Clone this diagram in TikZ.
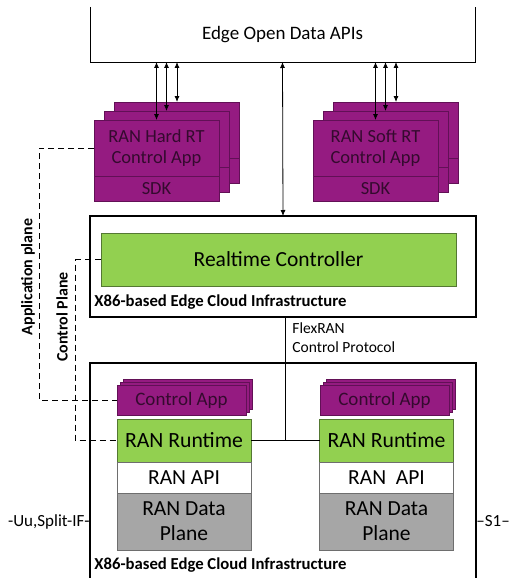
\documentclass[tikz,border=0pt]{standalone}
\usepackage{fontspec}
\setmainfont{Carlito}
\usetikzlibrary{arrows.meta,positioning}

\definecolor{appfill}{RGB}{149,27,129}
\definecolor{appedge}{RGB}{98,16,86}
\definecolor{apptext}{RGB}{52,10,46}
\definecolor{rtfill}{RGB}{146,208,80}
\definecolor{rtedge}{RGB}{84,120,50}
\definecolor{dpfill}{RGB}{166,166,166}
\definecolor{dpedge}{RGB}{110,110,110}

\begin{document}
\begin{tikzpicture}[
      x=1pt,
      y=-1pt,
      line width=0.8pt,
      app/.style={draw=appedge, fill=appfill, text=apptext, align=center, minimum width=125pt, inner sep=0pt, outer sep=0pt, font=\fontsize{18.5}{21}\selectfont},
      ctlapp/.style={app, minimum width=129pt, minimum height=30pt, font=\fontsize{19}{21}\selectfont},
      runtime/.style={draw=rtedge, fill=rtfill, align=center, minimum width=134pt, minimum height=43pt, inner sep=0pt, outer sep=0pt, font=\fontsize{21.7}{24}\selectfont},
      ranapi/.style={draw=dpedge, fill=white, minimum width=134pt, minimum height=31pt, inner sep=0pt, outer sep=0pt, font=\fontsize{21.5}{24}\selectfont},
      dataplane/.style={draw=dpedge, fill=dpfill, align=center, minimum width=134pt, minimum height=57pt, inner sep=0pt, outer sep=0pt, font=\fontsize{21.5}{25}\selectfont},
      infra/.style={minimum width=386pt, inner sep=0pt, outer sep=0pt},
      infralabel/.style={anchor=west, inner sep=0pt, font=\bfseries\fontsize{16.7}{19}\selectfont},
      planelabel/.style={rotate=90, inner sep=0pt, font=\bfseries\fontsize{16}{19}\selectfont},
      sidelabel/.style={inner sep=0pt, font=\fontsize{17}{19}\selectfont},
      plane/.style={dash pattern=on 6pt off 4pt},
      dbl/.style={{Latex[length=6pt,width=5pt]}-{Latex[length=6pt,width=5pt]}}
  ]
  \useasboundingbox (0,0) rectangle (515,578);

  % --- Open data APIs (open at the top) ---
  \node[minimum width=385pt, minimum height=55pt, inner sep=0pt, outer sep=0pt, font=\fontsize{19}{21}\selectfont] (apis) at (282.5,34.5) {Edge Open Data APIs};
  \draw (apis.north west) -- (apis.south west) -- (apis.south east) -- (apis.north east);

  % --- Hard RT app stack ---
  \node[app, minimum height=56pt] (hardBack2) at (177,130) {};
  \node[app, minimum height=25pt, below=0pt of hardBack2] (hardBack2Sdk) {};
  \node[app, minimum height=56pt] (hardBack1) at (166.5,139) {};
  \node[app, minimum height=25pt, below=0pt of hardBack1] (hardBack1Sdk) {};
  \node[app, minimum height=56pt] (hardApp) at (156.5,148) {RAN Hard RT\\Control App};
  \node[app, minimum height=25pt, below=0pt of hardApp] (hardSdk) {SDK};

  % --- Soft RT app stack ---
  \node[app, minimum height=56pt] (softBack2) at (396,130) {};
  \node[app, minimum height=25pt, below=0pt of softBack2] (softBack2Sdk) {};
  \node[app, minimum height=56pt] (softBack1) at (385.5,139) {};
  \node[app, minimum height=25pt, below=0pt of softBack1] (softBack1Sdk) {};
  \node[app, minimum height=56pt] (softApp) at (375.5,148) {RAN Soft RT\\Control App};
  \node[app, minimum height=25pt, below=0pt of softApp] (softSdk) {SDK};

  % --- Realtime controller on the upper edge cloud ---
  \node[infra, draw, line width=2.5pt, minimum height=101pt] (edge1) at (283,266.5) {};
  \node[draw=rtedge, fill=rtfill, minimum width=355pt, minimum height=53pt, inner sep=0pt, font=\fontsize{21.5}{24}\selectfont] (rtc) at (278.5,259.5) {Realtime Controller};
  \node[infralabel] (edge1Label) at (94,302) {X86-based Edge Cloud Infrastructure};

  % --- Lower edge cloud (open at the bottom) ---
  \node[infra, minimum height=222pt] (edge2) at (283,474) {};
  \draw[line width=2.5pt] (edge2.south west) -- (edge2.north west) -- (edge2.north east) -- (edge2.south east);
  \node[infralabel] (edge2Label) at (94,565) {X86-based Edge Cloud Infrastructure};

  % left RAN stack
  \node[ctlapp] (ctlLBack2) at (187.5,394) {};
  \node[ctlapp] (ctlLBack1) at (184.5,397) {};
  \node[ctlapp] (ctlL) at (181.5,400) {Control App};
  \node[runtime] (runL) at (184,440.5) {RAN Runtime};
  \node[ranapi, below=0pt of runL] (apiL) {RAN API};
  \node[dataplane, below=0pt of apiL] (dataL) {RAN Data\\Plane};

  % right RAN stack
  \node[ctlapp] (ctlRBack2) at (390.5,394) {};
  \node[ctlapp] (ctlRBack1) at (387.5,397) {};
  \node[ctlapp] (ctlR) at (384.5,400) {Control App};
  \node[runtime] (runR) at (386.5,440.5) {RAN Runtime};
  \node[ranapi, below=0pt of runR] (apiR) {RAN \ API};
  \node[dataplane, below=0pt of apiR] (dataR) {RAN Data\\Plane};

  % --- Arrows to the open data APIs ---
  \draw[dbl] (apis.south -| hardApp.north) -- (hardApp.north);
  \draw[dbl] (apis.south -| hardBack1.north) -- (hardBack1.north);
  \draw[dbl] (apis.south -| hardBack2.north) -- (hardBack2.north);
  \draw[dbl] (apis.south -| softApp.north) -- (softApp.north);
  \draw[dbl] (apis.south -| softBack1.north) -- (softBack1.north);
  \draw[dbl] (apis.south -| softBack2.north) -- (softBack2.north);
  \draw[dbl] (apis.south) -- (edge1.north);

  % --- FlexRAN control protocol ---
  \coordinate (flex) at (285.5,440.5);
  \draw (runL.east) -- (runR.west);
  \draw (edge1.south -| flex) -- (flex);
  \node[anchor=north west, align=left, inner sep=0pt, font=\fontsize{15.5}{19}\selectfont] (flexLabel) at (292,322) {FlexRAN\\Control Protocol};

  % --- Planes ---
  \draw[plane] (hardApp.west) -- ++(-55,0) |- (ctlL.west);
  \draw[plane] (rtc.west) -- ++(-25,0) |- (runL.west);
  \node[planelabel] (appPlane) at (28,277) {Application plane};
  \node[planelabel] (ctlPlane) at (62,317) {Control Plane};

  % --- Interfaces ---
  \node[sidelabel, anchor=east] (uuLabel) at (edge2.west |- dataL) {-Uu,Split-IF-};
  \node[sidelabel, anchor=west] (s1Label) at (edge2.east |- dataR) {--S1--};

\end{tikzpicture}
\end{document}
